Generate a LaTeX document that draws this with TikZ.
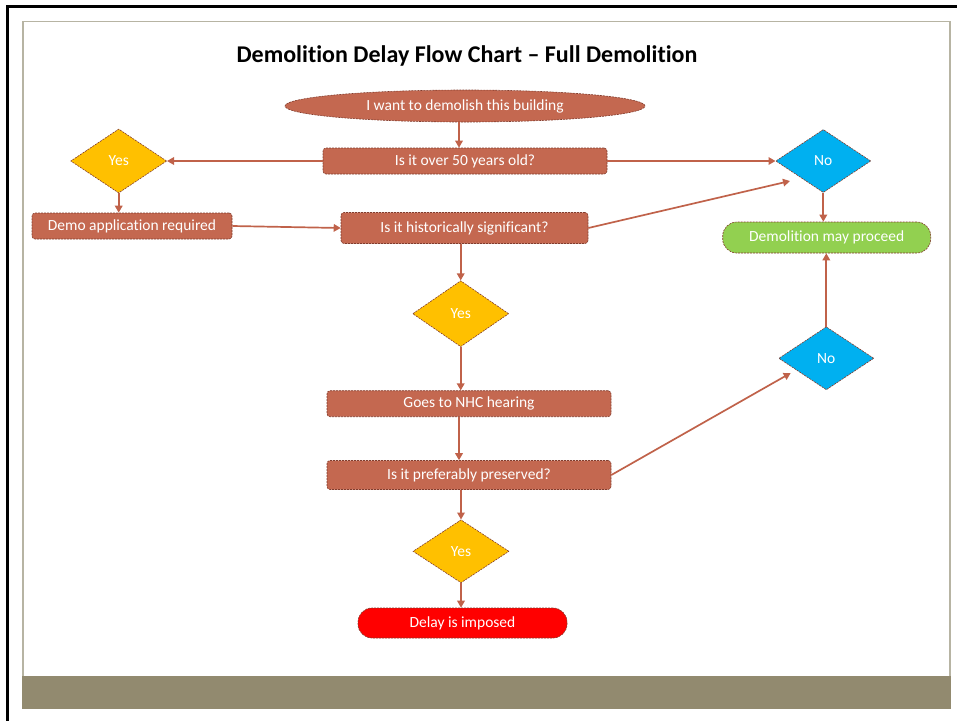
\documentclass[tikz,border=0pt]{standalone}
\usepackage{fontspec}
\setmainfont{Carlito}[Ligatures={NoCommon,NoRequired}]
\usetikzlibrary{shapes.geometric,arrows.meta,calc}
\definecolor{boxc}{RGB}{196,104,80}
\definecolor{bord}{RGB}{130,60,45}
\definecolor{arrc}{RGB}{192,98,74}
\definecolor{yesc}{RGB}{255,192,0}
\definecolor{noc}{RGB}{0,176,240}
\definecolor{grn}{RGB}{146,208,80}
\definecolor{olivec}{RGB}{146,138,111}
\definecolor{framec}{RGB}{183,180,163}
\begin{document}
\begin{tikzpicture}[x=1pt,y=-1pt,
  base/.style={draw=bord, dash pattern=on 2pt off 1pt, line width=0.6pt, text=white,
    font=\fontsize{15.5}{18}\selectfont, inner sep=0pt},
  procbox/.style={base, rectangle, rounded corners=3pt, fill=boxc},
  termov/.style={base, ellipse, fill=boxc},
  stadium/.style={base, rectangle, rounded corners=14pt},
  yesd/.style={base, diamond, fill=yesc, minimum width=96pt, minimum height=64pt},
  nod/.style={base, diamond, fill=noc, minimum width=95pt, minimum height=63pt},
  conn/.style={draw=arrc, line width=1.7pt, -{Triangle[length=7pt,width=7.5pt]}}
]
\useasboundingbox (0,0) rectangle (957,721);
% frames
\draw[framec, line width=1.6pt] (23,676) -- (23,21.5) -- (950,21.5) -- (950,676);
\fill[olivec] (22,676) rectangle (951,708.5);
\draw[black, line width=2.6pt] (957,6.2) -- (7.5,6.2) -- (7.5,721);
% title
\node (title) at (467,56) {\fontsize{24}{28}\selectfont\bfseries Demolition Delay Flow Chart -- Full Demolition};
% nodes
\node[termov, minimum width=360pt, minimum height=32pt] (start) at (465,106) {I want to demolish this building};
\node[procbox, minimum width=284pt, minimum height=26pt] (over) at (465,161) {Is it over 50 years old?};
\node[yesd] (yes1) at (118.7,161) {Yes};
\node[nod] (no1) at (823.3,161) {No};
\node[procbox, minimum width=200pt, minimum height=26pt] (demo) at (132,226) {Demo application required};
\node[procbox, minimum width=247pt, minimum height=31pt] (hist) at (464.5,228) {Is it historically significant?};
\node[stadium, fill=grn, minimum width=208pt, minimum height=31pt] (proceed) at (826.7,237.5) {Demolition may proceed};
\node[yesd, minimum height=66pt] (yes2) at (460.7,313.7) {Yes};
\node[nod] (no2) at (826.3,358.3) {No};
\node[procbox, minimum width=284pt, minimum height=26pt] (goes) at (469,403.7) {Goes to NHC hearing};
\node[procbox, minimum width=284pt, minimum height=29pt] (pres) at (469,475) {Is it preferably preserved?};
\node[yesd, minimum height=63pt] (yes3) at (461,551.3) {Yes};
\node[stadium, fill=red, minimum width=209pt, minimum height=30pt] (delay) at (462.5,623) {Delay is imposed};
\coordinate (t1) at (790,181);
\coordinate (t2) at (790.7,373);
% connectors
\draw[conn] ([xshift=-6pt]start.south) -- ([xshift=-6pt]over.north);
\draw[conn] (over.west) -- (yes1.east);
\draw[conn] (over.east) -- (no1.west);
\draw[conn] (yes1.south) -- (yes1.south |- demo.north);
\draw[conn] (demo.east) -- (hist.west);
\draw[conn] (hist.east) -- (t1);
\draw[conn] (no1.south) -- (no1.south |- proceed.north);
\draw[conn] (yes2.north |- hist.south) -- (yes2.north);
\draw[conn] (yes2.south) -- (yes2.south |- goes.north);
\draw[conn] ([xshift=-10pt]goes.south) -- ([xshift=-10pt]pres.north);
\draw[conn] (pres.east) -- (t2);
\draw[conn] (no2.north) -- (no2.north |- proceed.south);
\draw[conn] (yes3.north |- pres.south) -- (yes3.north);
\draw[conn] (yes3.south) -- (yes3.south |- delay.north);
\end{tikzpicture}
\end{document}
